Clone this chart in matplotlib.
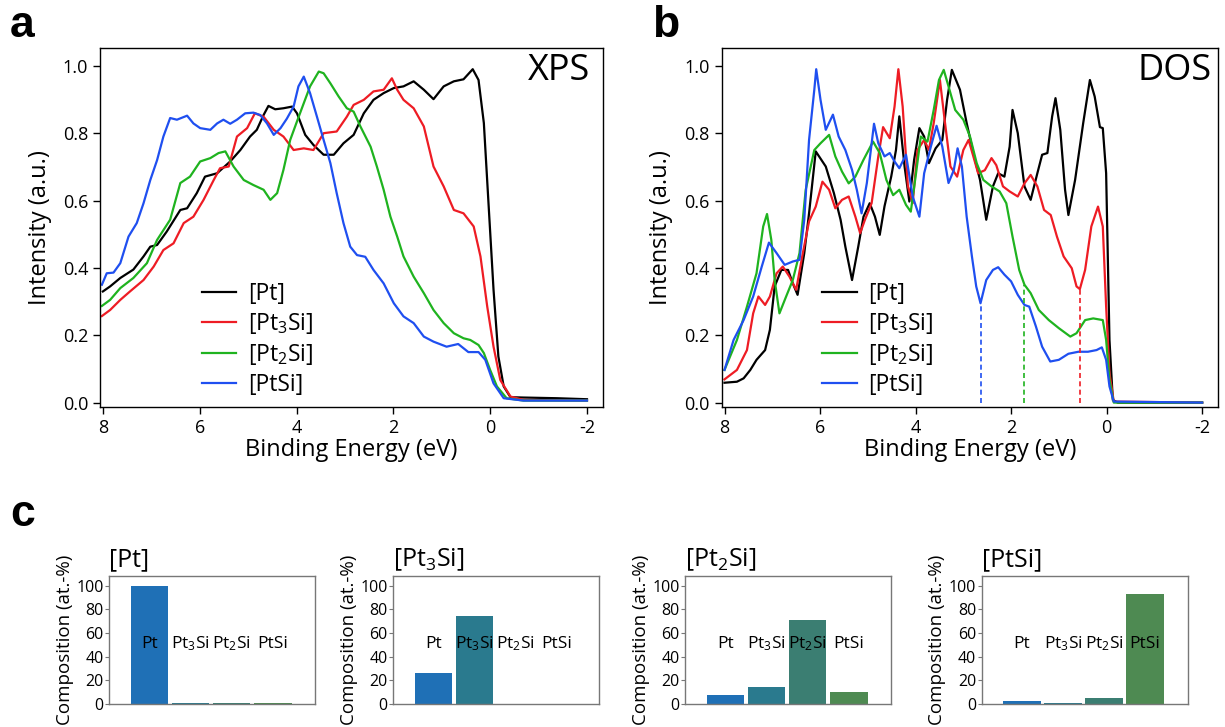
import numpy as np
import matplotlib
matplotlib.use("Agg")
import matplotlib.pyplot as plt

plt.rcParams['font.family'] = ['Open Sans', 'DejaVu Sans']
plt.rcParams['mathtext.default'] = 'regular'

# ---------------- XPS (panel a) ----------------
xps_pt_x = [8.0, 7.85, 7.64, 7.37, 7.16, 7.02, 6.88, 6.68, 6.40, 6.26, 6.06, 5.89, 5.64, 5.37, 5.16,
            4.96, 4.82, 4.68, 4.58, 4.44, 4.27, 4.09, 3.99, 3.82, 3.65, 3.44, 3.23, 3.03, 2.82, 2.61,
            2.41, 2.20, 1.99, 1.79, 1.58, 1.37, 1.17, 0.96, 0.75, 0.55, 0.36, 0.24, 0.13, 0.03, -0.07,
            -0.17, -0.28, -0.42, -0.69, -1.38, -2.0]
xps_pt_y = [0.33, 0.345, 0.37, 0.395, 0.434, 0.463, 0.468, 0.508, 0.572, 0.577, 0.622, 0.671, 0.681,
            0.716, 0.75, 0.79, 0.81, 0.854, 0.881, 0.871, 0.874, 0.879, 0.859, 0.795, 0.765, 0.736,
            0.736, 0.77, 0.795, 0.859, 0.899, 0.919, 0.934, 0.939, 0.954, 0.929, 0.901, 0.939, 0.954,
            0.96, 0.99, 0.958, 0.83, 0.582, 0.335, 0.137, 0.048, 0.016, 0.015, 0.013, 0.01]

xps_pt3si_x = [8.02, 7.85, 7.64, 7.44, 7.16, 6.95, 6.75, 6.54, 6.33, 6.13, 5.92, 5.71, 5.58, 5.40, 5.23,
               5.02, 4.86, 4.68, 4.47, 4.27, 4.06, 3.85, 3.65, 3.44, 3.17, 2.96, 2.82, 2.61, 2.41, 2.20,
               2.03, 1.92, 1.79, 1.58, 1.37, 1.17, 0.96, 0.75, 0.55, 0.34, 0.20, 0.06, -0.07, -0.21,
               -0.42, -0.69, -2.0]
xps_pt3si_y = [0.257, 0.275, 0.305, 0.33, 0.364, 0.404, 0.453, 0.473, 0.533, 0.552, 0.602, 0.661, 0.696,
               0.701, 0.79, 0.815, 0.859, 0.849, 0.81, 0.79, 0.75, 0.755, 0.75, 0.80, 0.805, 0.849,
               0.884, 0.899, 0.924, 0.929, 0.963, 0.929, 0.899, 0.874, 0.82, 0.701, 0.642, 0.572, 0.562,
               0.523, 0.434, 0.285, 0.166, 0.067, 0.018, 0.008, 0.006]

xps_pt2si_x = [8.02, 7.85, 7.64, 7.37, 7.09, 6.88, 6.61, 6.40, 6.20, 5.99, 5.78, 5.61, 5.47, 5.30, 5.09,
               4.89, 4.68, 4.54, 4.40, 4.27, 4.13, 3.99, 3.85, 3.72, 3.54, 3.44, 3.30, 3.13, 2.96, 2.82,
               2.68, 2.47, 2.34, 2.20, 2.06, 1.92, 1.79, 1.58, 1.37, 1.17, 0.96, 0.75, 0.55, 0.41, 0.24,
               0.13, 0.0, -0.14, -0.34, -0.69, -2.0]
xps_pt2si_y = [0.287, 0.305, 0.34, 0.37, 0.414, 0.483, 0.543, 0.652, 0.671, 0.716, 0.726, 0.741, 0.746,
               0.701, 0.661, 0.646, 0.632, 0.602, 0.622, 0.691, 0.78, 0.835, 0.889, 0.939, 0.983, 0.978,
               0.948, 0.909, 0.874, 0.864, 0.82, 0.76, 0.701, 0.632, 0.552, 0.493, 0.434, 0.374, 0.325,
               0.275, 0.236, 0.206, 0.191, 0.186, 0.171, 0.147, 0.097, 0.048, 0.013, 0.006, 0.006]

xps_ptsi_x = [8.02, 7.92, 7.78, 7.64, 7.47, 7.30, 7.16, 7.02, 6.88, 6.75, 6.61, 6.47, 6.26, 6.13, 5.99,
              5.78, 5.64, 5.51, 5.37, 5.23, 5.06, 4.89, 4.75, 4.61, 4.47, 4.33, 4.20, 4.06, 3.96, 3.85,
              3.72, 3.58, 3.44, 3.30, 3.17, 3.03, 2.89, 2.75, 2.58, 2.41, 2.20, 1.99, 1.79, 1.58, 1.37,
              1.17, 0.90, 0.66, 0.45, 0.24, 0.10, -0.07, -0.28, -0.69, -2.0]
xps_ptsi_y = [0.35, 0.384, 0.386, 0.414, 0.493, 0.533, 0.592, 0.661, 0.72, 0.79, 0.845, 0.84, 0.852,
              0.829, 0.815, 0.81, 0.829, 0.84, 0.828, 0.84, 0.859, 0.861, 0.854, 0.829, 0.795, 0.815,
              0.843, 0.879, 0.939, 0.968, 0.919, 0.85, 0.78, 0.711, 0.622, 0.533, 0.463, 0.438, 0.433,
              0.394, 0.354, 0.295, 0.256, 0.236, 0.196, 0.181, 0.166, 0.174, 0.15, 0.15, 0.127, 0.057,
              0.013, 0.006, 0.006]

# ---------------- DOS (panel b) ----------------
dos_pt_x = [8.0, 7.74, 7.60, 7.46, 7.33, 7.15, 7.05, 6.95, 6.81, 6.67, 6.57, 6.47, 6.33, 6.23, 6.09,
            5.88, 5.71, 5.57, 5.47, 5.33, 5.20, 5.09, 4.96, 4.85, 4.75, 4.65, 4.51, 4.41, 4.34, 4.23,
            4.13, 4.03, 3.92, 3.82, 3.72, 3.58, 3.44, 3.34, 3.24, 3.07, 2.93, 2.79, 2.65, 2.52, 2.38,
            2.27, 2.14, 2.03, 1.97, 1.86, 1.72, 1.59, 1.45, 1.35, 1.24, 1.14, 1.07, 0.97, 0.87, 0.80,
            0.66, 0.49, 0.35, 0.25, 0.14, 0.08, 0.01, -0.06, -0.13, -0.23, -2.0]
dos_pt_y = [0.059, 0.062, 0.072, 0.097, 0.127, 0.156, 0.216, 0.345, 0.394, 0.394, 0.354, 0.32, 0.444,
            0.562, 0.746, 0.701, 0.622, 0.543, 0.463, 0.364, 0.463, 0.552, 0.592, 0.552, 0.498, 0.583,
            0.671, 0.75, 0.85, 0.701, 0.597, 0.721, 0.815, 0.79, 0.711, 0.755, 0.78, 0.899, 0.988,
            0.929, 0.83, 0.741, 0.661, 0.543, 0.642, 0.681, 0.671, 0.76, 0.869, 0.80, 0.642, 0.602,
            0.681, 0.736, 0.741, 0.85, 0.904, 0.81, 0.632, 0.557, 0.661, 0.83, 0.958, 0.909, 0.818,
            0.815, 0.681, 0.186, 0.008, 0.0, 0.0]

dos_pt3si_x = [8.0, 7.74, 7.53, 7.40, 7.29, 7.15, 7.05, 6.91, 6.78, 6.64, 6.50, 6.36, 6.23, 6.09, 5.95,
               5.81, 5.68, 5.54, 5.40, 5.26, 5.16, 5.06, 4.92, 4.78, 4.68, 4.54, 4.44, 4.36, 4.27, 4.16,
               4.06, 3.96, 3.82, 3.72, 3.62, 3.49, 3.40, 3.27, 3.13, 3.0, 2.89, 2.79, 2.69, 2.55, 2.41,
               2.31, 2.17, 2.03, 1.86, 1.72, 1.59, 1.45, 1.31, 1.17, 1.04, 0.90, 0.73, 0.63, 0.56, 0.45,
               0.32, 0.18, 0.08, 0.01, -0.06, -0.15, -2.0]
dos_pt3si_y = [0.069, 0.097, 0.156, 0.265, 0.315, 0.29, 0.315, 0.384, 0.404, 0.374, 0.335, 0.444, 0.538,
               0.582, 0.656, 0.632, 0.577, 0.602, 0.612, 0.552, 0.503, 0.543, 0.592, 0.731, 0.818, 0.785,
               0.879, 0.99, 0.879, 0.642, 0.592, 0.75, 0.78, 0.75, 0.83, 0.958, 0.85, 0.701, 0.671, 0.75,
               0.78, 0.731, 0.681, 0.69, 0.726, 0.705, 0.642, 0.627, 0.612, 0.651, 0.676, 0.642, 0.572,
               0.557, 0.493, 0.434, 0.399, 0.345, 0.337, 0.394, 0.523, 0.582, 0.523, 0.285, 0.087, 0.003,
               0.0]

dos_pt2si_x = [8.0, 7.74, 7.53, 7.33, 7.19, 7.11, 7.02, 6.95, 6.85, 6.71, 6.57, 6.43, 6.30, 6.12, 5.99,
               5.81, 5.68, 5.54, 5.40, 5.26, 5.09, 4.89, 4.75, 4.61, 4.47, 4.34, 4.20, 4.10, 3.99, 3.89,
               3.75, 3.62, 3.51, 3.41, 3.31, 3.17, 3.0, 2.86, 2.72, 2.58, 2.41, 2.24, 2.10, 1.97, 1.83,
               1.72, 1.59, 1.42, 1.21, 1.0, 0.76, 0.63, 0.45, 0.28, 0.08, 0.01, -0.06, -0.15, -2.0]
dos_pt2si_y = [0.097, 0.186, 0.285, 0.384, 0.523, 0.56, 0.483, 0.364, 0.265, 0.315, 0.364, 0.444, 0.632,
               0.75, 0.77, 0.795, 0.731, 0.686, 0.651, 0.671, 0.721, 0.775, 0.741, 0.661, 0.616, 0.632,
               0.587, 0.567, 0.681, 0.79, 0.775, 0.869, 0.958, 0.988, 0.939, 0.869, 0.84, 0.79, 0.711,
               0.661, 0.642, 0.627, 0.592, 0.493, 0.394, 0.35, 0.325, 0.275, 0.245, 0.221, 0.196, 0.206,
               0.245, 0.25, 0.245, 0.186, 0.067, 0.0, 0.0]

dos_ptsi_x = [8.0, 7.81, 7.60, 7.40, 7.22, 7.07, 6.91, 6.74, 6.57, 6.43, 6.33, 6.23, 6.12, 6.08, 5.99,
              5.88, 5.73, 5.61, 5.47, 5.33, 5.23, 5.13, 5.02, 4.87, 4.78, 4.65, 4.54, 4.44, 4.34, 4.20,
              4.06, 3.92, 3.82, 3.68, 3.56, 3.44, 3.31, 3.20, 3.12, 3.03, 2.93, 2.82, 2.73, 2.64, 2.52,
              2.38, 2.27, 2.14, 2.0, 1.86, 1.72, 1.62, 1.48, 1.35, 1.18, 1.0, 0.80, 0.59, 0.39, 0.21,
              0.10, 0.01, -0.06, -0.15, -2.0]
dos_ptsi_y = [0.097, 0.186, 0.245, 0.315, 0.404, 0.475, 0.444, 0.409, 0.419, 0.424, 0.543, 0.78, 0.929,
              0.99, 0.899, 0.81, 0.855, 0.79, 0.75, 0.691, 0.632, 0.562, 0.652, 0.828, 0.77, 0.731,
              0.741, 0.716, 0.696, 0.736, 0.612, 0.552, 0.681, 0.76, 0.822, 0.76, 0.652, 0.69, 0.755,
              0.701, 0.552, 0.434, 0.345, 0.295, 0.364, 0.394, 0.402, 0.38, 0.36, 0.32, 0.29, 0.285,
              0.226, 0.166, 0.122, 0.127, 0.145, 0.151, 0.151, 0.156, 0.164, 0.127, 0.048, 0.003, 0.0]

# dashed markers in DOS (PtSi, Pt2Si, Pt3Si edges)
mark_x = [2.64, 1.72, 0.56]
mark_top = [0.295, 0.35, 0.337]
mark_colors = ['#1f4ff0', '#1fb31f', '#ee1c24']

series_labels = ['[Pt]', '[Pt$_3$Si]', '[Pt$_2$Si]', '[PtSi]']
line_colors = ['black', '#ee1c24', '#1fb31f', '#1f4ff0']

# ---------------- composition (panel c) ----------------
phases = ['Pt', 'Pt$_3$Si', 'Pt$_2$Si', 'PtSi']
comp_pt = [99.5, 0.5, 0.5, 0.5]
comp_pt3si = [25.7, 74.3, 0, 0]
comp_pt2si = [7.1, 14.2, 70.6, 9.9]
comp_ptsi = [2.0, 0.9, 4.8, 92.7]
bar_colors = ['#1f70b6', '#2a7a8e', '#3b7e72', '#4e8a52']

fig = plt.figure(figsize=(12.25, 7.27), dpi=100)

ax_a = fig.add_axes([0.0816, 0.4402, 0.4106, 0.4938])
ax_b = fig.add_axes([0.5891, 0.4402, 0.4051, 0.4938])

xps = [(xps_pt_x, xps_pt_y), (xps_pt3si_x, xps_pt3si_y), (xps_pt2si_x, xps_pt2si_y), (xps_ptsi_x, xps_ptsi_y)]
dos = [(dos_pt_x, dos_pt_y), (dos_pt3si_x, dos_pt3si_y), (dos_pt2si_x, dos_pt2si_y), (dos_ptsi_x, dos_ptsi_y)]

for (x, y), c, lab in zip(xps, line_colors, series_labels):
    ax_a.plot(x, y, color=c, lw=1.6, label=lab, solid_joinstyle='round')
for (x, y), c, lab in zip(dos, line_colors, series_labels):
    ax_b.plot(x, y, color=c, lw=1.6, label=lab, solid_joinstyle='round')
for xm, ym, c in zip(mark_x, mark_top, mark_colors):
    ax_b.plot([xm, xm], [0, ym], color=c, lw=1.2, ls=(0, (3, 2)))

for ax, name, nx in [(ax_a, 'XPS', 0.974), (ax_b, 'DOS', 0.988)]:
    ax.set_xlim(8.06, -2.33)
    ax.set_ylim(-0.013, 1.053)
    ax.set_xticks([8, 6, 4, 2, 0, -2])
    ax.set_xticklabels(['8', '6', '4', '2', '0', '-2'])
    ax.set_yticks([0, 0.2, 0.4, 0.6, 0.8, 1.0])
    ax.set_yticklabels(['0.0', '0.2', '0.4', '0.6', '0.8', '1.0'])
    ax.tick_params(direction='out', length=5, width=1, labelsize=13)
    ax.set_xlabel('Binding Energy (eV)', fontsize=17, labelpad=1)
    ax.set_ylabel('Intensity (a.u.)', fontsize=17, labelpad=8)
    ax.text(nx, 0.911, name, transform=ax.transAxes, fontsize=26, ha='right', va='baseline')
    ax.legend(loc='center left', bbox_to_anchor=(0.203, 0.189), frameon=False, fontsize=16.5,
              handlelength=1.5, handletextpad=0.5, labelspacing=0.25, borderpad=0, borderaxespad=0)
    for s in ax.spines.values():
        s.set_linewidth(1)

# panel c
c_titles = ['[Pt]', '[Pt$_3$Si]', '[Pt$_2$Si]', '[PtSi]']
c_data = [comp_pt, comp_pt3si, comp_pt2si, comp_ptsi]
c_left = [0.0892, 0.3211, 0.5594, 0.8014]
for left, title, vals in zip(c_left, c_titles, c_data):
    ax = fig.add_axes([left, 0.032, 0.1682, 0.176])
    pos = np.arange(len(phases))
    ax.bar(pos, vals, width=0.92, color=bar_colors)
    for p, lab in zip(pos, phases):
        ax.text(p, 51, lab, ha='center', va='center', fontsize=12.5)
    ax.set_xlim(-0.98, 4.04)
    ax.set_ylim(0, 108.5)
    ax.set_xticks([])
    ax.set_yticks([0, 20, 40, 60, 80, 100])
    ax.tick_params(axis='y', direction='out', length=3, width=0.8, labelsize=11.5, color='#777777', pad=1)
    for s in ax.spines.values():
        s.set_color('#777777')
        s.set_linewidth(1)
    ax.set_ylabel('Composition (at.-%)', fontsize=13.5, labelpad=2)
    ax.text(0.0, 1.0 + 10 / 128, title, transform=ax.transAxes, fontsize=18, ha='left', va='baseline')

fig.text(0.008, 0.965, 'a', fontsize=32, fontweight='heavy', family=['Liberation Sans'], va='center')
fig.text(0.532, 0.965, 'b', fontsize=32, fontweight='heavy', family=['Liberation Sans'], va='center')
fig.text(0.008, 0.292, 'c', fontsize=32, fontweight='heavy', family=['Liberation Sans'], va='center')

fig.savefig('out.png', dpi=100)
